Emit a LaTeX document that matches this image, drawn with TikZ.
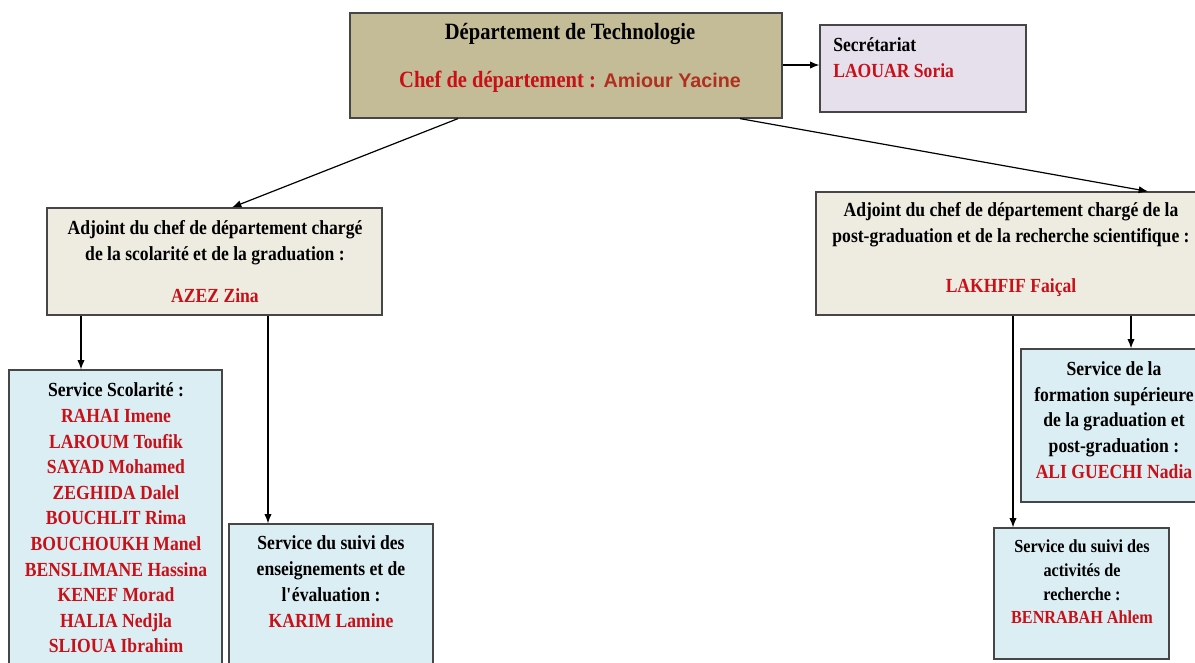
\documentclass[tikz,border=0pt]{standalone}
\usepackage{fontspec}
\setmainfont{Liberation Serif}[FakeStretch=0.88]
\newfontfamily\arialfont{Liberation Sans}
\usepackage{xcolor}
\usepackage{tikz}
\usetikzlibrary{arrows.meta, positioning, fit}
\definecolor{deptcolor}{RGB}{196,188,150}
\definecolor{secrcolor}{RGB}{229,224,236}
\definecolor{adjcolor}{RGB}{238,236,225}
\definecolor{servcolor}{RGB}{219,238,243}
\definecolor{namecolor}{RGB}{200,16,24}
\definecolor{chefcolor}{RGB}{176,48,32}
\definecolor{framecolor}{RGB}{70,70,70}
\newcommand{\pname}[1]{\textcolor{namecolor}{#1}}

\begin{document}
\begin{tikzpicture}[
    x=0.75pt, y=-0.75pt,
    box/.style={draw=framecolor, line width=0.9pt, inner sep=0pt},
    txt/.style={font=\bfseries\fontsize{15}{19.5}\selectfont, align=center, inner sep=0pt},
    arrow/.style={-{Latex[length=7pt,width=5.5pt]}, line width=0.9pt}
]
    \useasboundingbox (0,0) rectangle (1195,662);
    \clip (0,0) rectangle (1195,662);

    % Boxes
    \node[box, fill=deptcolor, fit={(350,13) (782,118)}] (dept) {};
    \node[box, fill=secrcolor, fit={(820,25) (1026,112)}] (secr) {};
    \node[box, fill=adjcolor, fit={(47,208) (382,315)}] (adjl) {};
    \node[box, fill=adjcolor, fit={(816,192) (1205,315)}] (adjr) {};
    \node[box, fill=servcolor, fit={(9,370) (222,675)}] (scol) {};
    \node[box, fill=servcolor, fit={(229,524) (433,675)}] (suivi) {};
    \node[box, fill=servcolor, fit={(1021,349) (1205,502)}] (form) {};
    \node[box, fill=servcolor, fit={(994,528) (1169,659)}] (rech) {};

    % Texts
    \node[txt, font=\bfseries\fontsize{17.5}{36}\selectfont] (depttxt) at (570,58)
        {Département de Technologie\\
         \pname{Chef de département :}~\hspace{2pt}{\arialfont\fontsize{14.8}{36}\selectfont\color{chefcolor}Amiour Yacine}};
    \node[txt, align=left, anchor=west] (secrtxt) at (833,58) {Secrétariat\\\pname{LAOUAR Soria}};
    \node[txt] (adjltxt) at (215,262)
        {Adjoint du chef de département chargé\\de la scolarité et de la graduation :\\[12pt]\pname{AZEZ Zina}};
    \node[txt] (adjrtxt) at (1011,250)
        {Adjoint du chef de département chargé de la\\post-graduation et de la recherche scientifique :\\[18pt]\pname{LAKHFIF Faiçal}};
    \node[txt, font=\bfseries\fontsize{15}{19.2}\selectfont] (scoltxt) at (116,518)
        {Service Scolarité :\\\pname{RAHAI Imene}\\\pname{LAROUM Toufik}\\\pname{SAYAD Mohamed}\\\pname{ZEGHIDA Dalel}\\
         \pname{BOUCHLIT Rima}\\\pname{BOUCHOUKH Manel}\\\pname{BENSLIMANE Hassina}\\\pname{KENEF Morad}\\
         \pname{HALIA Nedjla}\\\pname{SLIOUA Ibrahim}};
    \node[txt] (suivitxt) at (331,582)
        {Service du suivi des\\enseignements et de\\l\textquotesingle évaluation :\\\pname{KARIM Lamine}};
    \node[txt, font=\bfseries\fontsize{15}{19.3}\selectfont] (formtxt) at (1114,420)
        {Service de la\\formation supérieure\\de la graduation et\\post-graduation :\\\pname{ALI GUECHI Nadia}};
    \node[txt, font=\bfseries\fontsize{13.8}{17.8}\selectfont] (rechtxt) at (1082,582)
        {Service du suivi des\\activités de\\recherche :\\\pname{BENRABAH Ahlem}};

    % Connectors
    \draw[arrow] (dept.east |- 0,65) -- (secr.west |- 0,65);
    \draw[arrow] (dept.south -| 458,0) -- (adjl.north -| 232,0);
    \draw[arrow] (dept.south -| 740,0) -- (adjr.north -| 1148,0);
    \draw[arrow] (adjl.south -| 81,0) -- (scol.north -| 81,0);
    \draw[arrow] (adjl.south -| 268,0) -- (suivi.north -| 268,0);
    \draw[arrow] (adjr.south -| 1013,0) -- (rech.north -| 1013,0);
    \draw[arrow] (adjr.south -| 1131,0) -- (form.north -| 1131,0);
\end{tikzpicture}
\end{document}
